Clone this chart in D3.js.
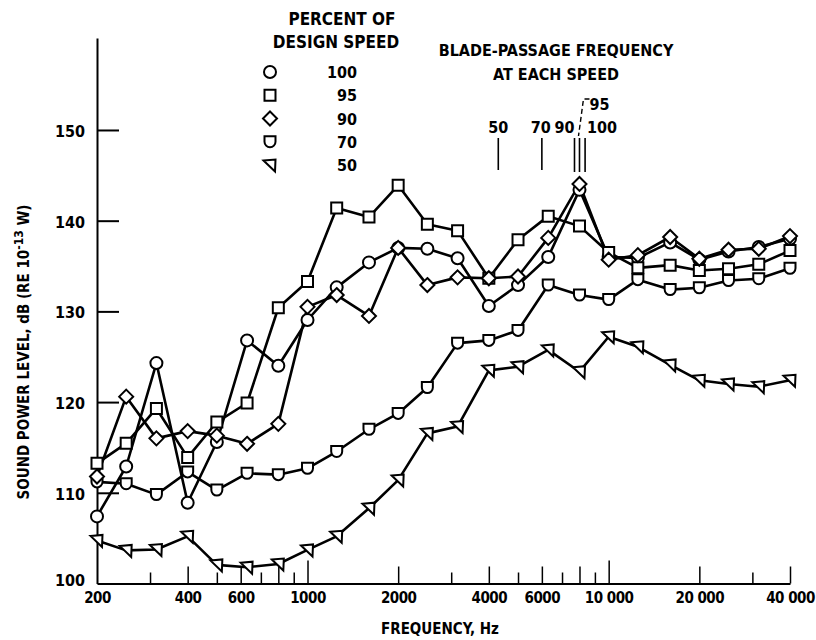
<!DOCTYPE html>
<html>
<head>
<meta charset="utf-8">
<script src="https://cdn.jsdelivr.net/npm/d3@7"></script>
<style>
  body { margin: 0; background: #fff; }
  text { font-family: "Liberation Sans Narrow", "DejaVu Sans Condensed", "Liberation Sans", sans-serif; font-weight: bold; fill: #000; }
</style>
</head>
<body>
<svg id="chart" width="816" height="640"></svg>
<script>
// One-third-octave band centre frequencies, Hz
const freqs = [200, 250, 315, 400, 500, 630, 800, 1000, 1250, 1600, 2000, 2500,
               3150, 4000, 5000, 6300, 8000, 10000, 12500, 16000, 20000, 25000, 31500, 40000];

// Sound power level, dB re 1e-13 W, per percent of design speed
const speed100 = [107.4, 112.9, 124.3, 108.9, 115.6, 126.8, 124.0, 129.05, 132.65, 135.4, 137.0, 136.9,
                  135.85, 130.6, 132.9, 136.0, 143.4, 136.0, 135.9, 137.6, 135.7, 136.6, 137.1, 138.0];
const speed95  = [113.25, 115.45, 119.3, 113.9, 117.8, 119.9, 130.4, 133.3, 141.4, 140.4, 143.9, 139.6,
                  138.9, 133.65, 137.9, 140.5, 139.4, 136.5, 134.8, 135.1, 134.5, 134.7, 135.2, 136.7];
const speed90  = [111.8, 120.6, 116.0, 116.8, 116.3, 115.4, 117.6, 130.5, 131.8, 129.5, 137.0, 132.9,
                  133.75, 133.65, 133.85, 138.1, 144.05, 135.7, 136.2, 138.2, 135.8, 136.8, 136.9, 138.3];
const speed70  = [111.2, 111.0, 109.8, 112.3, 110.3, 112.15, 112.0, 112.7, 114.55, 117.0, 118.75, 121.6,
                  126.5, 126.8, 127.9, 132.9, 131.8, 131.3, 133.5, 132.4, 132.6, 133.4, 133.6, 134.75];
const speed50  = [104.75, 103.65, 103.75, 105.2, 102.05, 101.8, 102.15, 103.7, 105.2, 108.3, 111.4, 116.55,
                  117.3, 123.5, 123.9, 125.75, 123.35, 127.2, 126.1, 124.1, 122.4, 122.0, 121.7, 122.4];

// Legend entries
const speedLabels = ["100", "95", "90", "70", "50"];
const speedSymbols = ["circle", "square", "diamond", "cup", "triangle"];

// Blade-passage frequency at each speed (50, 70, 90, 95, 100 percent)
const bpfLabels = ["50", "70", "90", "95", "100"];
const bpfFreqs = [4300, 6000, 7700, 8000, 8350];

// Axis ticks
const xLabelValues = [200, 400, 600, 1000, 2000, 4000, 6000, 10000, 20000, 40000];
const xLabelText = ["200", "400", "600", "1000", "2000", "4000", "6000", "10 000", "20 000", "40 000"];
const xTicksDecade = [1000, 10000];
const xTicksEven = [400, 600, 800, 2000, 4000, 6000, 8000, 20000, 40000];
const xTicksOdd = [300, 500, 700, 900, 3000, 5000, 7000, 9000, 30000];
const yTickValues = [100, 110, 120, 130, 140, 150];

const svg = d3.select("#chart");

const x = d3.scaleLog().domain([200, 40000]).range([97, 790]);
const y = d3.scaleLinear().domain([100, 160.14]).range([583.5, 38]);
const y0 = y(100);

// Marker shapes
const shapes = {
  circle: "M6,0A6,6 0 1,1 -6,0A6,6 0 1,1 6,0Z",
  square: "M-5.5,-5.5H5.5V5.5H-5.5Z",
  diamond: "M0,-7L7,0L0,7L-7,0Z",
  cup: "M-5.5,0V-5.5H5.5V0A5.5,5.5 0 0,1 -5.5,0Z",
  triangle: "M-6.5,-4.5L5.5,-5.5L5,6.5Z"
};

// Y axis
const yAxis = svg.append("g").attr("transform", `translate(${x(200)},0)`)
  .call(d3.axisLeft(y).tickValues(yTickValues).tickSizeInner(-22).tickSizeOuter(0).tickPadding(12)
        .tickFormat(d3.format("d")));
yAxis.select(".domain").attr("stroke-width", 2);
yAxis.selectAll(".tick line").attr("stroke-width", 2).filter(d => d === 100).remove();
yAxis.selectAll(".tick text").attr("font-size", 16).attr("dy", d => d === 100 ? "0.1em" : "0.4em");

// X axis: line and graded tick marks pointing up
const xAxisG = svg.append("g").attr("transform", `translate(0,${y0})`);
[[xTicksDecade, 23], [xTicksEven, 17], [xTicksOdd, 11]].forEach(([vals, len]) => {
  const g = xAxisG.append("g")
    .call(d3.axisBottom(x).tickValues(vals).tickSizeInner(-len).tickSizeOuter(0).tickFormat(""));
  g.select(".domain").remove();
  g.selectAll(".tick line").attr("stroke-width", 1.5);
});
const xLab = xAxisG.append("g")
  .call(d3.axisBottom(x).tickValues(xLabelValues).tickSize(0).tickPadding(9)
        .tickFormat((d, i) => xLabelText[i]));
xLab.select(".domain").attr("stroke-width", 2);
xLab.selectAll(".tick text").attr("font-size", 15).attr("letter-spacing", "-0.5px");

// Axis titles
svg.append("text").attr("x", 440).attr("y", 634).attr("text-anchor", "middle")
  .attr("font-size", 15).text("FREQUENCY, Hz");
const yTitle = svg.append("text")
  .attr("transform", "translate(29,352) rotate(-90)")
  .attr("text-anchor", "middle").attr("font-size", 15);
yTitle.append("tspan").text("SOUND POWER LEVEL, dB (RE 10");
yTitle.append("tspan").attr("dy", -6).attr("font-size", 12).text("-13");
yTitle.append("tspan").attr("dy", 6).text(" W)");

// Data series
const series = [
  { values: speed50, shape: "triangle" },
  { values: speed70, shape: "cup" },
  { values: speed100, shape: "circle" },
  { values: speed95, shape: "square" },
  { values: speed90, shape: "diamond" }
];
const line = d3.line().x(d => x(d.f)).y(d => y(d.v));
series.forEach(s => {
  s.points = freqs.map((f, i) => ({ f, v: s.values[i] }));
  svg.append("path").datum(s.points).attr("d", line)
    .attr("fill", "none").attr("stroke", "#000").attr("stroke-width", 2.6).attr("stroke-linejoin", "round");
});
series.forEach(s => {
  svg.append("g").selectAll("path").data(s.points).join("path")
    .attr("transform", d => `translate(${x(d.f)},${y(d.v)})`)
    .attr("d", shapes[s.shape])
    .attr("fill", "#fff").attr("stroke", "#000").attr("stroke-width", 2);
});

// Legend
svg.append("text").attr("x", 342).attr("y", 25).attr("text-anchor", "middle").attr("font-size", 17).text("PERCENT OF");
svg.append("text").attr("x", 336).attr("y", 48).attr("text-anchor", "middle").attr("font-size", 17).text("DESIGN SPEED");
const legendRow = d3.scaleLinear().domain([0, 4]).range([78, 171]);
speedLabels.forEach((lab, i) => {
  svg.append("path").attr("transform", `translate(270,${legendRow(i) - 6})`)
    .attr("d", shapes[speedSymbols[i]])
    .attr("fill", "#fff").attr("stroke", "#000").attr("stroke-width", 2);
  svg.append("text").attr("x", 357).attr("y", legendRow(i)).attr("text-anchor", "end")
    .attr("font-size", 16).text(lab);
});

// Blade-passage frequency markers
svg.append("text").attr("x", 556).attr("y", 56).attr("text-anchor", "middle").attr("font-size", 16)
  .text("BLADE-PASSAGE FREQUENCY");
svg.append("text").attr("x", 556).attr("y", 80).attr("text-anchor", "middle").attr("font-size", 16)
  .text("AT EACH SPEED");
bpfFreqs.forEach((f, i) => {
  svg.append("line").attr("x1", x(f)).attr("x2", x(f)).attr("y1", 138).attr("y2", i < 2 ? 170 : 172)
    .attr("stroke", "#000").attr("stroke-width", 1.6);
});
const bpfText = [[0, 0, 133], [1, -1, 133], [2, -10, 133], [4, 17, 133]];
bpfText.forEach(([i, dx, yy]) => {
  svg.append("text").attr("x", x(bpfFreqs[i]) + dx).attr("y", yy).attr("text-anchor", "middle")
    .attr("font-size", 16).text(bpfLabels[i]);
});
// "95" is set above, with a dashed leader down to its line
const x95 = x(bpfFreqs[3]);
svg.append("text").attr("x", x95 + 20).attr("y", 110).attr("text-anchor", "middle")
  .attr("font-size", 16).text(bpfLabels[3]);
svg.append("path").attr("d", `M${x95 + 10},99H${x95 + 4}L${x95 - 1},136`)
  .attr("fill", "none").attr("stroke", "#000").attr("stroke-width", 1.4).attr("stroke-dasharray", "5,3");
</script>
</body>
</html>
